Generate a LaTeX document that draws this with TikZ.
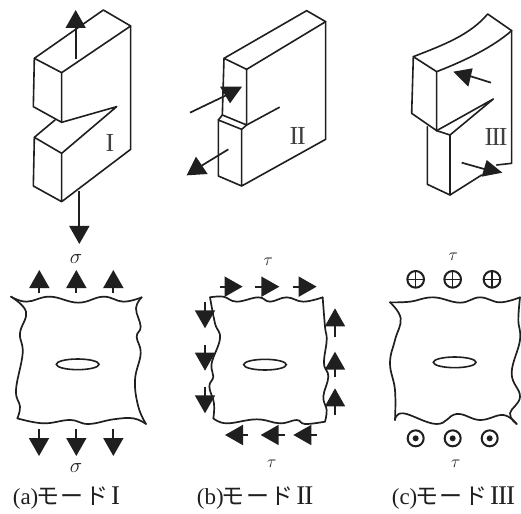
\documentclass[tikz,border=0pt]{standalone}
\usepackage{fontspec}
\setmainfont{Liberation Serif}
\newfontfamily\cjk{Noto Sans CJK JP}
\usetikzlibrary{arrows.meta}
\colorlet{ink}{black!88}
\tikzset{
  panel/.style={x=1pt/3,y=-1pt/3,shift={#1}},
  edge/.style={line width=1.6pt,line join=round,line cap=round,ink},
  wavy/.style={line width=1.7pt,line cap=round,ink,smooth,tension=0.7},
  shaft/.style={line width=1.7pt,ink},
  farrow/.style={shaft,-{Triangle[length=18pt,width=20pt]}},
  roman/.style={inner sep=0pt,font=\fontsize{26}{26}\selectfont,black!75},
  sym/.style={inner sep=0pt,font=\fontsize{20}{20}\selectfont,ink},
  symt/.style={inner sep=0pt,font=\fontsize{16}{16}\selectfont,ink},
  capt/.style={inner sep=0pt,anchor=west,font=\fontsize{23}{23}\selectfont,ink},
  hole/.style={line width=1.6pt,ink},
  ring/.style={line width=2pt,ink}
}
\newcommand{\modecap}[1]{(#1)\kern-2pt{\cjk\addfontfeature{LetterSpace=6}モード}}
\newcommand{\bigroman}[1]{{\fontsize{27}{27}\selectfont #1}}
\begin{document}
\begin{tikzpicture}
\useasboundingbox (0,0) rectangle (521pt,-513pt);
\fill[white] (0,0) rectangle (521pt,-513pt);

% ---------- Block I
\begin{scope}[panel={(0pt,0pt)}]
\draw[edge] (103,175)--(310,30)--(392,78)--(185,218)--cycle;
\draw[edge] (392,78)--(392,448)--(185,605)--(100,558)--(103,412)--(185,460)--(185,605);
\draw[edge] (103,175)--(100,320)--(185,367)--(185,218);
\draw[edge] (165,360)--(103,412);
\draw[edge] (185,367)--(350,320)--(185,460);
\node[roman] (numI) at (330,428) {I};
\draw[farrow] (227,178)--(227,30);
\draw[farrow] (238,572)--(238,732);
\end{scope}

% ---------- Block II
\begin{scope}[panel={(170pt,0pt)}]
\draw[edge] (162,175)--(410,32)--(467,65)--(230,208)--cycle;
\draw[edge] (467,65)--(467,418)--(215,558)--(145,528)--(145,360)--(215,388)--(215,558);
\draw[edge] (162,175)--(157,345)--(230,375)--(230,208);
\draw[edge] (157,345)--(145,360);
\draw[edge] (230,375)--(215,388);
\draw[edge] (230,375)--(328,322);
\node[roman] (numII) at (383,408) {I\kern-1pt I};
\draw[shaft] (60,338)--(185,278);
\fill[ink] (150,260)--(216,260)--(180,310)--cycle;
\draw[shaft] (175,448)--(90,500);
\fill[ink] (50,526)--(113,522)--(78,470)--cycle;
\end{scope}

% ---------- Block III
\begin{scope}[panel={(340pt,0pt)}]
\draw[edge] (220,170) .. controls (310,135) and (390,105) .. (443,42)--(515,92)
  .. controls (460,140) and (380,180) .. (290,215)--cycle;
\draw[edge] (515,92)--(515,490)--(470,495);
\draw[edge] (220,170)--(215,340)--(290,392)--(290,215);
\draw[edge] (262,380)--(262,553)--(330,585)--(330,405)--(290,392);
\draw[edge] (330,585)--(425,525);
\draw[edge] (290,392)--(460,297)--(330,405);
\node[roman] (numIII) at (468,410) {I\kern-1.5pt I\kern-1.5pt I};
\draw[shaft] (453,248)--(370,222);
\fill[ink] (340,215)--(398,205)--(385,260)--cycle;
\draw[shaft] (365,488)--(450,512);
\fill[ink] (487,518)--(440,480)--(425,530)--cycle;
\end{scope}

% ---------- Plate (a)
\begin{scope}[panel={(0pt,-240pt)}]
\draw[wavy] plot coordinates {(33,170)(80,185)(150,170)(235,188)(310,170)(370,185)(425,172)};
\draw[wavy] plot coordinates {(33,170)(78,215)(60,280)(68,340)(48,450)(60,500)(52,535)};
\draw[wavy] plot coordinates {(425,172)(408,205)(422,260)(410,290)(422,340)(405,420)(415,500)(438,552)};
\draw[wavy] plot coordinates {(52,535)(130,550)(210,540)(265,552)(340,538)(400,535)(438,552)};
\draw[hole] (233,373) ellipse [x radius=64,y radius=16];
\foreach \x in {118,229,340} \draw[farrow] (\x,158)--(\x,90);
\foreach \x in {117,229,340} \draw[farrow] (\x,568)--(\x,648);
\node[sym] (sa1) at (228,56) {$\sigma$};
\node[sym] (sa2) at (228,684) {$\sigma$};
\node[capt] (capa) at (38,775) {\modecap{a}\kern3pt\bigroman{I}};
\end{scope}

% ---------- Plate (b)
\begin{scope}[panel={(170pt,-240pt)}]
\draw[wavy] plot coordinates {(120,172)(160,170)(200,185)(265,172)(300,185)(350,172)(400,185)(458,172)};
\draw[wavy] plot coordinates {(120,172)(135,250)(150,295)(125,370)(130,410)(118,440)(132,490)(130,535)};
\draw[wavy] plot coordinates {(458,172)(465,260)(470,300)(462,370)(475,410)(460,470)(470,510)(465,545)};
\draw[wavy] plot coordinates {(130,535)(170,550)(260,538)(330,550)(380,540)(405,552)(465,545)};
\draw[hole] (285,374) ellipse [x radius=64,y radius=16];
\foreach \x/\y in {150/218,255/328,368/440} \draw[farrow] (\x,140)--(\y,140);
\foreach \x/\y in {185/265,315/392,440/520} \draw[farrow] (105,\x)--(105,\y);
\foreach \x/\y in {290/205,410/335,525/445} \draw[farrow] (495,\x)--(495,\y);
\foreach \x/\y in {235/165,345/272,440/370} \draw[farrow] (\x,585)--(\y,585);
\node[symt] (tb1) at (295,66) {$\tau$};
\node[symt] (tb2) at (305,670) {$\tau$};
\node[capt] (capb) at (80,775) {\modecap{b}\kern3pt\bigroman{I\kern-1pt I}};
\end{scope}

% ---------- Plate (c)
\begin{scope}[panel={(340pt,-240pt)}]
\draw[wavy] plot coordinates {(150,187)(210,185)(280,172)(360,188)(420,172)(480,187)(540,172)};
\draw[wavy] plot coordinates {(150,187)(182,235)(165,300)(150,370)(165,450)(165,540)};
\draw[wavy] plot coordinates {(540,172)(535,240)(540,300)(515,400)(540,470)(510,520)(530,552)};
\draw[wavy] plot coordinates {(165,540)(190,520)(290,552)(350,522)(420,540)(490,525)(530,552)};
\draw[hole] (344,367) ellipse [x radius=64,y radius=16];
\foreach \x in {227,338,456} {
  \draw[ring] (\x,118) circle [radius=25];
  \draw[line width=1.3pt,ink] (\x-25,118)--(\x+25,118) (\x,93)--(\x,143);
}
\foreach \x in {227,338,449} {
  \draw[ring] (\x,595) circle [radius=24];
  \fill[ink] (\x,595) circle [radius=9];
}
\node[symt] (tc1) at (340,50) {$\tau$};
\node[symt] (tc2) at (347,670) {$\tau$};
\node[capt] (capc) at (155,775) {\modecap{c}\kern3pt\bigroman{I\kern-1pt I\kern-1pt I}};
\end{scope}
\end{tikzpicture}
\end{document}
